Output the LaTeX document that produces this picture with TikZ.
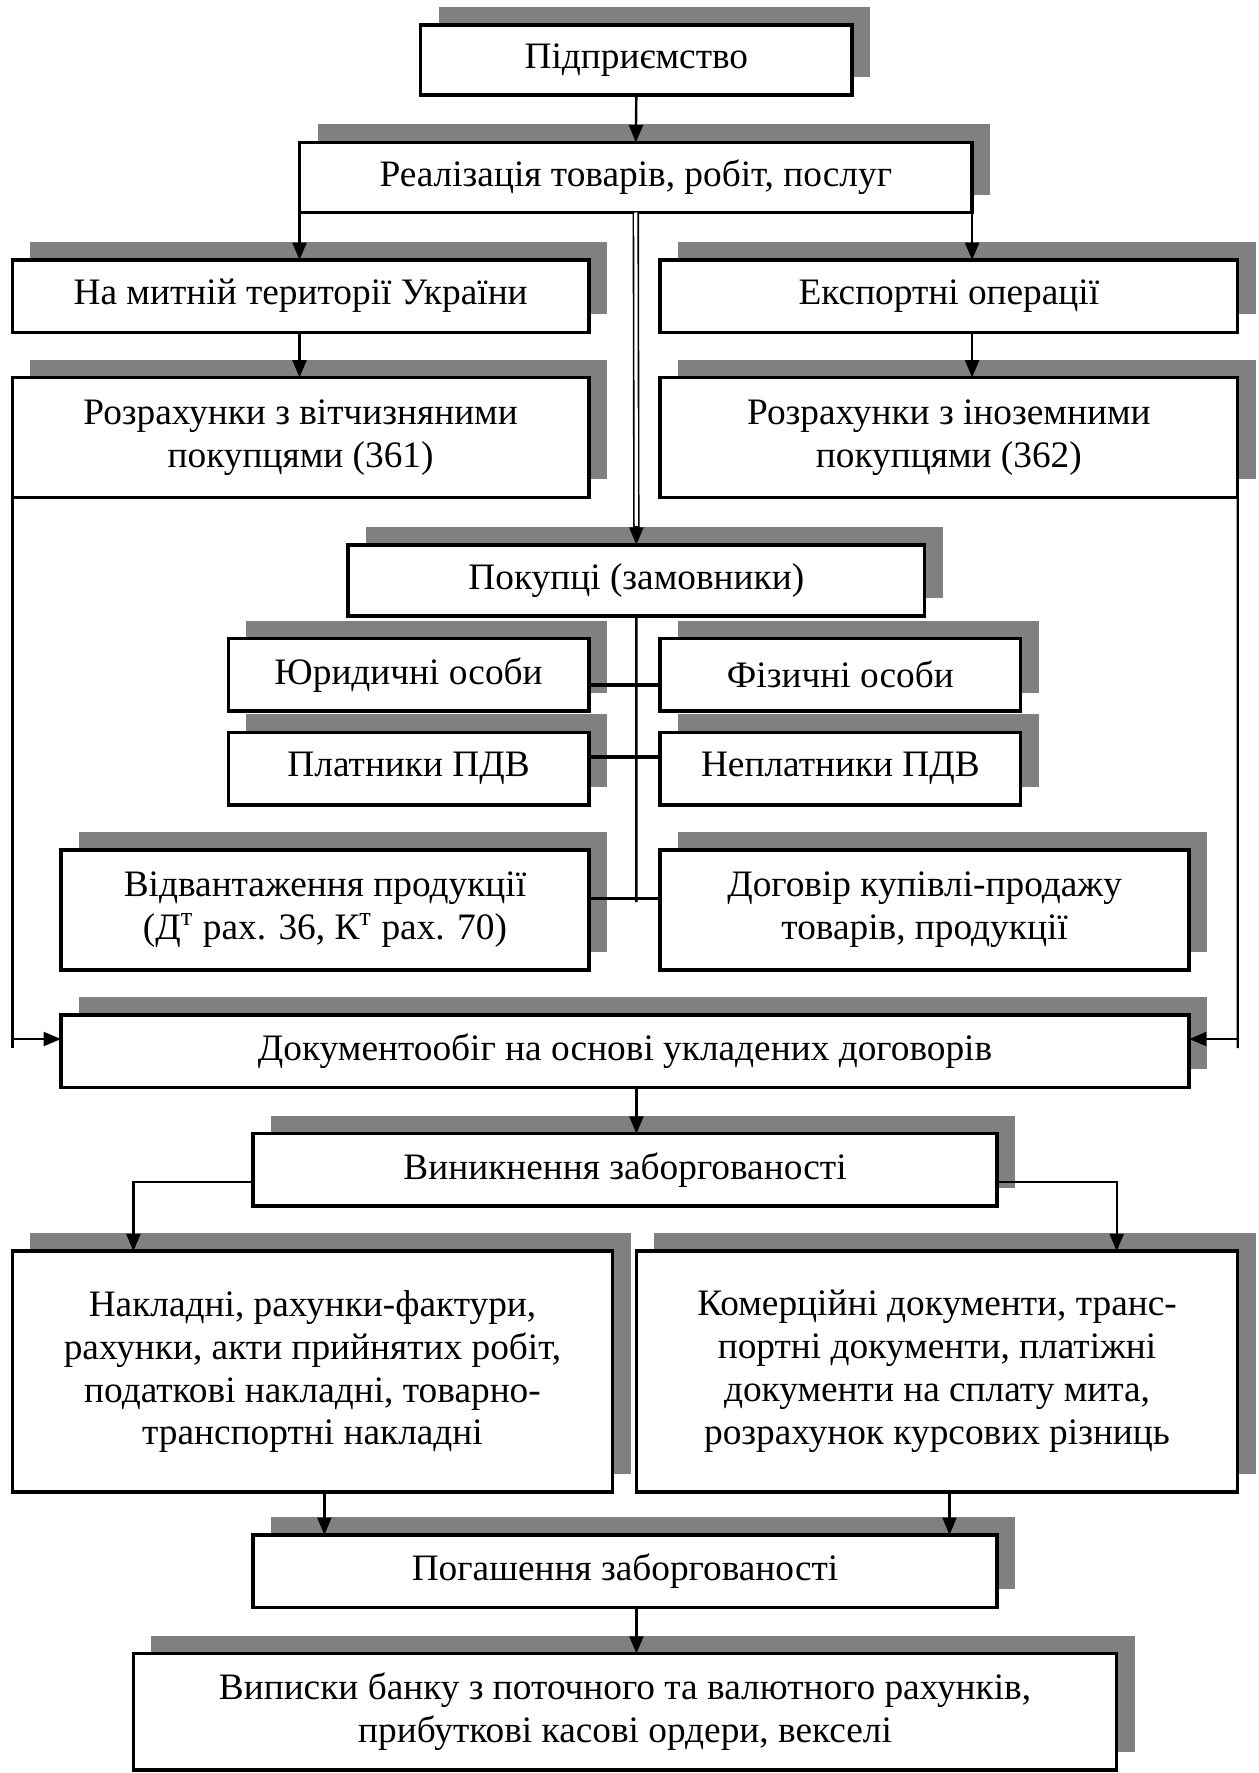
\documentclass[tikz,border=0pt]{standalone}
\usepackage{fontspec}
\setmainfont{Liberation Serif}
\usetikzlibrary{arrows.meta,shadows}
\definecolor{shadowgray}{RGB}{128,128,128}
\tikzset{
 bbox/.style={draw=black, line width=1.3pt, fill=white, inner sep=0pt, outer sep=0pt, align=center,
   font=\fontsize{14}{16.1}\selectfont,
   general shadow={fill=shadowgray, shadow xshift=6.75pt, shadow yshift=6.75pt}},
 conn/.style={draw=black, line width=0.9pt},
 arr/.style={conn, -{Triangle[length=6.5pt,width=5.2pt]}},
 hconn/.style={draw=black, line width=1.3pt},
 dbl/.style={draw=black, line width=0.6pt, double, double distance=1.2pt},
}
\newcommand\mybox[6]{%
 \pgfmathsetmacro\bw{(#4-#2)*0.375}%
 \pgfmathsetmacro\bh{(#5-#3)*0.375}%
 \node[bbox, minimum width=\bw pt, minimum height=\bh pt] (#1) at ({(#2+#4)/2},{(#3+#5)/2}) {#6};}
\begin{document}
\begin{tikzpicture}[x=0.375pt, y=-0.375pt]
\useasboundingbox (0,0) rectangle (1258,1773);
\mybox{pidp}{420.5}{24.9}{852.2}{94.9}{Підприємство}
\mybox{real}{299.5}{142.4}{972.1}{212.5}{Реалізація товарів, робіт, послуг}
\mybox{mit}{12.4}{260.0}{588.9}{332.3}{На митній території України}
\mybox{exp}{660.1}{260.0}{1237.7}{332.3}{Експортні операції}
\mybox{vit}{12.4}{377.5}{588.9}{497.3}{Розрахунки з вітчизняними\\покупцями (361)}
\mybox{inoz}{660.1}{377.5}{1237.7}{497.3}{Розрахунки з іноземними\\покупцями (362)}
\mybox{pok}{348.1}{544.8}{924.6}{616.0}{Покупці (замовники)}
\mybox{jur}{228.3}{638.6}{588.9}{711.0}{Юридичні особи}
\mybox{fiz}{660.1}{638.6}{1020.7}{711.0}{Фізичні особи}
\mybox{plat}{228.3}{732.4}{588.9}{804.8}{Платники ПДВ}
\mybox{neplat}{660.1}{732.4}{1020.7}{804.8}{Неплатники ПДВ}
\mybox{vidv}{61.0}{850.0}{588.9}{969.8}{Відвантаження продукції\\(Д\textsuperscript{т} рах. 36, К\textsuperscript{т} рах. 70)}
\mybox{dog}{660.1}{850.0}{1189.1}{969.8}{Договір купівлі-продажу\\товарів, продукції}
\mybox{doc}{61.0}{1015.0}{1189.1}{1087.3}{Документообіг на основі укладених договорів}
\mybox{vyn}{253.2}{1133.7}{996.9}{1206.0}{Виникнення заборгованості}
\mybox{nakl}{12.4}{1251.2}{612.6}{1492.0}{Накладні, рахунки-фактури,\\рахунки, акти прийнятих робіт,\\податкові накладні, товарно-\\транспортні накладні}
\mybox{kom}{636.4}{1251.2}{1237.7}{1492.0}{Комерційні документи, транс-\\портні документи, платіжні\\документи на сплату мита,\\розрахунок курсових різниць}
\mybox{pog}{253.2}{1534.9}{996.9}{1607.3}{Погашення заборгованості}
\mybox{vyp}{133.4}{1653.6}{1116.7}{1770.0}{Виписки банку з поточного та валютного рахунків,\\прибуткові касові ордери, векселі}
% coordinates
\coordinate (cx) at (636.4,0);
\coordinate (lb) at (12.4,1048);
\coordinate (la) at (12.4,1039);
\coordinate (rb) at (1237.7,1048);
\coordinate (ra) at (1237.7,1039);
\coordinate (bk) at (636.4,902);
\coordinate (h1) at (636.4,685);
\coordinate (h2) at (636.4,757);
\coordinate (h3) at (636.4,898.6);
\coordinate (vl) at (133.4,1182);
\coordinate (vr) at (1116.7,1182);
\coordinate (p1) at (324.4,0);
\coordinate (p2) at (949.5,0);
% connectors
\draw[arr] (pidp.south) -- (real.north);
\draw[arr] (real.south west) -- (mit.north -| real.south west);
\draw[arr] (real.south east) -- (exp.north -| real.south east);
\draw[arr] (mit.south -| real.south west) -- (vit.north -| real.south west);
\draw[arr] (exp.south -| real.south east) -- (inoz.north -| real.south east);
\draw[dbl] (real.south) -- ([yshift=6pt]pok.north);
\draw[arr] ([yshift=7pt]pok.north) -- (pok.north);
\draw[conn] (vit.south west) -- (lb);
\draw[arr] (la) -- (doc.west |- la);
\draw[conn] (inoz.south east) -- (rb);
\draw[arr] (ra) -- (doc.east |- ra);
\draw[conn] (pok.south) -- (bk);
\draw[hconn] (jur.east |- h1) -- (fiz.west |- h1);
\draw[hconn] (plat.east |- h2) -- (neplat.west |- h2);
\draw[hconn] (vidv.east |- h3) -- (dog.west |- h3);
\draw[arr] (doc.south -| cx) -- (vyn.north -| cx);
\draw[arr] (vyn.west |- vl) -- (vl) -- (nakl.north -| vl);
\draw[arr] (vyn.east |- vr) -- (vr) -- (kom.north -| vr);
\draw[arr] (nakl.south -| p1) -- (pog.north -| p1);
\draw[arr] (kom.south -| p2) -- (pog.north -| p2);
\draw[arr] (pog.south -| cx) -- (vyp.north -| cx);
\end{tikzpicture}
\end{document}
